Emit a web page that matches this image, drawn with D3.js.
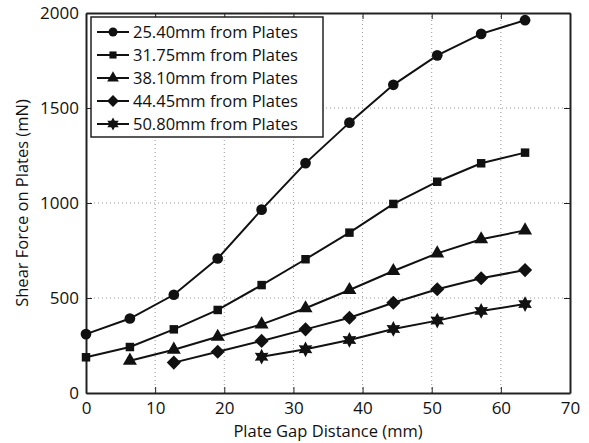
<!DOCTYPE html>
<html>
<head>
<meta charset="utf-8">
<script src="https://cdn.jsdelivr.net/npm/d3@7"></script>
<style>
  body { margin: 0; background: #fff; }
  svg { display: block; }
</style>
</head>
<body>
<div id="chart"></div>
<script>
// gap distance, mm
const gaps = [0, 6.35, 12.7, 19.05, 25.4, 31.75, 38.1, 44.45, 50.8, 57.15, 63.5];

// shear force, mN (null where not measured)
const s2540 = [310, 392, 517, 708, 965, 1210, 1423, 1622, 1777, 1890, 1962];
const s3175 = [188, 242, 335, 437, 568, 704, 844, 995, 1112, 1209, 1265];
const s3810 = [null, 170, 228, 296, 361, 446, 542, 642, 735, 809, 856];
const s4445 = [null, null, 160, 217, 274, 335, 396, 475, 546, 604, 647];
const s5080 = [null, null, null, null, 191, 230, 279, 337, 381, 432, 468];

const seriesNames = ["25.40mm from Plates", "31.75mm from Plates", "38.10mm from Plates",
                     "44.45mm from Plates", "50.80mm from Plates"];
const seriesValues = [s2540, s3175, s3810, s4445, s5080];
const markerTypes = ["circle", "square", "triangle", "diamond", "star"];

const xTicks = [0, 10, 20, 30, 40, 50, 60, 70];
const yTicks = [0, 500, 1000, 1500, 2000];

const width = 589, height = 443;
const margin = {top: 13, right: 19, bottom: 50, left: 86};
const font = "'Open Sans', 'Noto Sans', sans-serif";

const svg = d3.select("#chart").append("svg")
    .attr("width", width)
    .attr("height", height);

const x = d3.scaleLinear().domain([0, 70]).range([margin.left, width - margin.right]);
const y = d3.scaleLinear().domain([0, 2000]).range([height - margin.bottom, margin.top]);

// dotted grid
const grid = svg.append("g").attr("stroke", "#999").attr("stroke-width", 1)
    .attr("stroke-dasharray", "1,3");
grid.selectAll(".gx").data(xTicks.slice(1, -1)).enter().append("line")
    .attr("x1", d => x(d)).attr("x2", d => x(d))
    .attr("y1", y(0)).attr("y2", y(2000));
grid.selectAll(".gy").data(yTicks.slice(1, -1)).enter().append("line")
    .attr("x1", x(0)).attr("x2", x(70))
    .attr("y1", d => y(d)).attr("y2", d => y(d));

// axes, ticks pointing inward on all four sides
const tickLen = 6;
const fmt = d3.format("d");
svg.append("g")
    .attr("transform", "translate(0," + y(0) + ")")
    .call(d3.axisBottom(x).tickValues(xTicks).tickFormat(fmt).tickSizeInner(-tickLen).tickSizeOuter(0).tickPadding(9));
svg.append("g")
    .attr("transform", "translate(0," + y(2000) + ")")
    .call(d3.axisTop(x).tickValues(xTicks).tickSizeInner(-tickLen).tickSizeOuter(0).tickFormat(""));
svg.append("g")
    .attr("transform", "translate(" + x(0) + ",0)")
    .call(d3.axisLeft(y).tickValues(yTicks).tickFormat(fmt).tickSizeInner(-tickLen).tickSizeOuter(0).tickPadding(7));
svg.append("g")
    .attr("transform", "translate(" + x(70) + ",0)")
    .call(d3.axisRight(y).tickValues(yTicks).tickSizeInner(-tickLen).tickSizeOuter(0).tickFormat(""));

svg.selectAll(".domain").attr("stroke", "#222").attr("stroke-width", 2);
svg.selectAll(".tick line").attr("stroke", "#222").attr("stroke-width", 1);
svg.selectAll(".tick text")
    .attr("font-family", font).attr("font-size", 17).attr("fill", "#111");

// axis titles
svg.append("text")
    .attr("x", (x(0) + x(70)) / 2).attr("y", 437)
    .attr("text-anchor", "middle")
    .attr("font-family", font).attr("font-size", 16.5).attr("fill", "#111")
    .text("Plate Gap Distance (mm)");
svg.append("text")
    .attr("transform", "translate(28," + y(1000) + ") rotate(-90)")
    .attr("text-anchor", "middle")
    .attr("font-family", font).attr("font-size", 16.5).attr("fill", "#111")
    .text("Shear Force on Plates (mN)");

// markers: matlab-like diamond and hexagram
const symDiamond = {
    draw(ctx, size) {
        const r = Math.sqrt(size / 2);
        ctx.moveTo(0, -r); ctx.lineTo(r, 0); ctx.lineTo(0, r); ctx.lineTo(-r, 0); ctx.closePath();
    }
};
const symHexagram = {
    draw(ctx, size) {
        const R = Math.sqrt(size) * 0.75, r = R * 0.55;
        for (let k = 0; k < 12; k++) {
            const a = -Math.PI / 2 + k * Math.PI / 6;
            const rr = k % 2 === 0 ? R : r;
            if (k === 0) ctx.moveTo(rr * Math.cos(a), rr * Math.sin(a));
            else ctx.lineTo(rr * Math.cos(a), rr * Math.sin(a));
        }
        ctx.closePath();
    }
};
const symbolTypes = {
    circle: [d3.symbolCircle, 90],
    square: [d3.symbolSquare, 72],
    triangle: [d3.symbolTriangle, 85],
    diamond: [symDiamond, 100],
    star: [symHexagram, 110]
};
function marker(type, scale) {
    const t = symbolTypes[type];
    return d3.symbol(t[0], t[1] * scale)();
}

const line = d3.line()
    .defined(d => d.v !== null)
    .x(d => x(d.g))
    .y(d => y(d.v));

seriesValues.forEach((vals, i) => {
    const pts = gaps.map((g, j) => ({g: g, v: vals[j]}));
    svg.append("path")
        .datum(pts)
        .attr("fill", "none")
        .attr("stroke", "#111")
        .attr("stroke-width", 2)
        .attr("d", line);
    svg.selectAll(".m" + i)
        .data(pts.filter(d => d.v !== null))
        .enter().append("path")
        .attr("transform", d => "translate(" + x(d.g) + "," + y(d.v) + ")")
        .attr("d", marker(markerTypes[i], 1))
        .attr("fill", "#111");
});

// legend
const lg = svg.append("g").attr("transform", "translate(91,17)");
lg.append("rect")
    .attr("width", 232).attr("height", 120)
    .attr("fill", "#fff").attr("stroke", "#222").attr("stroke-width", 1.5);
seriesNames.forEach((name, i) => {
    const row = lg.append("g").attr("transform", "translate(0," + (15 + i * 23) + ")");
    row.append("line")
        .attr("x1", 6).attr("x2", 38)
        .attr("stroke", "#111").attr("stroke-width", 2);
    row.append("path")
        .attr("transform", "translate(22,0)")
        .attr("d", marker(markerTypes[i], 0.7))
        .attr("fill", "#111");
    row.append("text")
        .attr("x", 42).attr("dy", "0.35em")
        .attr("font-family", font).attr("font-size", 16.5).attr("fill", "#111")
        .text(name);
});
</script>
</body>
</html>
